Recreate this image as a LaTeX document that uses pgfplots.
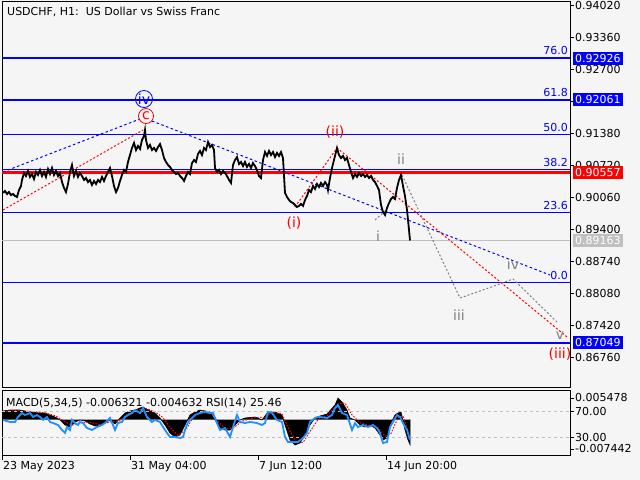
\documentclass[border=0pt]{standalone}
\usepackage{pgfplots}
\usepackage{pgfplotstable}
\pgfplotsset{compat=1.18}
\usepackage{fontspec}
\setmainfont{DejaVu Sans}
\definecolor{bg}{HTML}{F5F5F5}
\definecolor{mtblue}{HTML}{0000FF}
\definecolor{mtred}{HTML}{FF0000}
\definecolor{wgray}{HTML}{808080}
\definecolor{silver}{HTML}{C0C0C0}
\definecolor{rsiblue}{HTML}{1E90FF}
\definecolor{dgray}{HTML}{C0C0C0}
\newcommand\tf{\fontsize{11bp}{13bp}\selectfont}
\newcommand\lf{\fontsize{14bp}{16bp}\selectfont}

\pgfplotstableread{
x p
3 0.90143
5 0.90184
7 0.90122
9 0.90163
11 0.90101
13 0.90122
15 0.90081
17 0.90060
19 0.90204
21 0.90287
22 0.90411
24 0.90555
26 0.90493
28 0.90596
30 0.90473
32 0.90534
34 0.90431
36 0.90576
38 0.90514
40 0.90617
42 0.90493
44 0.90576
46 0.90473
48 0.90638
50 0.90534
52 0.90658
54 0.90514
56 0.90596
58 0.90493
60 0.90555
62 0.90369
64 0.90246
66 0.90163
68 0.90328
70 0.90576
72 0.90720
74 0.90493
76 0.90596
78 0.90473
80 0.90555
82 0.90493
84 0.90411
86 0.90452
88 0.90369
90 0.90411
92 0.90308
94 0.90390
96 0.90328
98 0.90411
100 0.90369
102 0.90473
104 0.90390
106 0.90493
108 0.90576
110 0.90658
112 0.90493
114 0.90287
116 0.90163
118 0.90246
120 0.90390
122 0.90514
124 0.90617
126 0.90576
128 0.90782
130 0.90926
132 0.91071
134 0.91174
136 0.91029
138 0.91112
140 0.91050
142 0.91236
144 0.91318
145 0.91442
146 0.91236
148 0.91071
150 0.91133
152 0.91029
154 0.91071
156 0.91009
158 0.91091
160 0.91153
162 0.91029
164 0.90864
166 0.90782
168 0.90720
170 0.90679
172 0.90617
174 0.90576
176 0.90534
178 0.90555
180 0.90493
182 0.90452
184 0.90390
186 0.90493
188 0.90576
190 0.90534
192 0.90761
194 0.90823
196 0.90782
198 0.90947
200 0.91009
202 0.90926
204 0.91071
206 0.91029
208 0.91195
210 0.91091
212 0.91133
214 0.91029
215 0.90658
217 0.90576
219 0.90617
221 0.90534
223 0.90596
225 0.90555
227 0.90493
229 0.90411
231 0.90349
233 0.90720
235 0.90823
237 0.90885
239 0.90741
241 0.90782
243 0.90699
245 0.90782
247 0.90679
249 0.90741
251 0.90658
253 0.90761
255 0.90699
257 0.90617
259 0.90493
261 0.90452
263 0.90823
265 0.90988
267 0.90906
269 0.91009
271 0.90926
273 0.90988
275 0.90885
277 0.90968
279 0.90906
281 0.90988
283 0.90864
285 0.90143
287 0.90060
289 0.89998
291 0.89957
293 0.89936
295 0.89895
297 0.89854
299 0.89875
301 0.89916
303 0.89875
305 0.89998
307 0.90081
309 0.90204
311 0.90163
313 0.90287
315 0.90225
317 0.90328
319 0.90266
321 0.90349
323 0.90287
325 0.90369
327 0.90308
328 0.90204
330 0.90452
332 0.90658
334 0.90823
336 0.90988
337 0.91071
339 0.90926
341 0.90864
343 0.90906
345 0.90823
347 0.90864
349 0.90720
351 0.90576
353 0.90452
355 0.90534
357 0.90473
359 0.90555
361 0.90493
363 0.90534
365 0.90473
367 0.90514
369 0.90452
371 0.90493
373 0.90411
375 0.90369
377 0.90287
379 0.90204
381 0.89895
383 0.89751
385 0.89689
387 0.89834
389 0.89936
391 0.90019
393 0.90060
395 0.90019
397 0.90246
399 0.90411
401 0.90514
403 0.90287
405 0.90081
407 0.89792
409 0.89383
410 0.89163
}\price

\pgfplotstableread{
x m
3 0
3 0.00218
10 0.00243
20 0.00243
30 0.00193
40 0.00167
45 0.00167
50 0.00117
55 0.00066
60 -0.00010
65 -0.00137
70 -0.00188
75 -0.00061
80 -0.00010
85 -0.00035
90 -0.00111
95 -0.00162
100 -0.00137
105 -0.00086
110 -0.00010
115 -0.00111
120 0.00041
125 0.00167
130 0.00218
135 0.00243
140 0.00294
143 0.00319
148 0.00243
155 0.00167
160 0.00041
165 -0.00137
170 -0.00340
175 -0.00441
180 -0.00390
185 -0.00137
190 0.00117
195 0.00193
200 0.00243
205 0.00218
210 0.00193
215 -0.00010
220 -0.00213
225 -0.00264
230 -0.00264
235 -0.00137
240 -0.00010
245 0.00041
255 0.00066
262 -0.00010
268 0.00193
275 0.00193
282 0.00117
285 -0.00137
290 -0.00517
295 -0.00644
300 -0.00593
305 -0.00390
310 -0.00137
315 0.00041
320 0.00091
327 0.00142
335 0.00370
338 0.00547
342 0.00446
347 0.00243
350 0.00041
355 -0.00010
360 -0.00137
365 -0.00188
370 -0.00137
375 -0.00213
380 -0.00390
383 -0.00517
387 -0.00466
390 -0.00137
395 0.00117
398 0.00167
401 0.00193
405 -0.00264
408 -0.00517
410 -0.00632
410 0
}\macd

\pgfplotstableread{
x s
3 0.0020
15 0.0023
30 0.0021
45 0.0017
55 0.0010
65 -0.0005
72 -0.0014
80 -0.0008
90 -0.0007
100 -0.0013
110 -0.0006
120 -0.0003
128 0.0015
138 0.0025
146 0.0028
155 0.0020
163 0.0005
170 -0.0020
178 -0.0040
186 -0.0025
193 0.0005
202 0.0022
210 0.0020
218 -0.0005
226 -0.0024
234 -0.0020
242 -0.0004
255 0.0005
265 0.0005
272 0.0018
282 0.0015
288 -0.0020
296 -0.0055
303 -0.0058
310 -0.0030
318 0.0000
328 0.0012
338 0.0040
345 0.0042
352 0.0012
360 -0.0008
370 -0.0015
378 -0.0020
385 -0.0042
391 -0.0035
398 0.0005
403 0.0010
410 -0.00463
}\signal

\pgfplotstableread{
x r
3 56.2
10 53.1
15 53.1
18 60.8
22 66.9
25 63.8
30 66.9
33 60.8
37 63.8
40 60.8
43 56.2
47 60.8
50 53.1
53 51.5
58 48.5
62 40.8
65 36.2
67 45.4
70 40.8
72 56.2
75 51.5
78 48.5
80 53.1
83 51.5
87 43.8
92 40.8
97 45.4
102 48.5
105 51.5
110 59.2
113 48.5
115 40.8
118 51.5
122 53.1
125 60.8
128 63.8
132 66.9
135 71.5
140 66.9
143 74.6
147 60.8
152 53.1
155 56.2
160 53.1
163 45.4
167 36.2
170 30.0
175 30.0
180 28.5
183 30.0
185 40.8
188 53.1
192 59.2
195 63.8
200 66.9
205 68.5
210 66.9
213 66.9
217 51.5
220 40.8
225 43.8
230 30.0
233 45.4
237 63.8
240 53.1
245 51.5
250 53.1
257 51.5
262 48.5
265 51.5
268 68.5
272 66.9
277 56.2
282 53.1
285 30.0
288 22.3
293 22.3
298 22.3
303 28.5
307 36.2
310 53.1
315 59.2
318 60.8
320 60.8
327 59.2
332 63.8
335 74.6
338 79.2
342 66.9
347 63.8
352 40.8
355 51.5
358 45.4
363 48.5
368 45.4
373 48.5
377 43.8
380 36.2
383 20.8
387 22.3
390 45.4
393 53.1
397 63.8
400 60.8
403 51.5
407 40.8
410 25.46
}\rsi

\begin{document}
\begin{tikzpicture}
\useasboundingbox (0bp,0bp) rectangle (640bp,480bp);
\fill[bg] (0bp,0bp) rectangle (640bp,480bp);
% ---------------- main price window ----------------
\begin{axis}[
  at={(2bp,92bp)}, anchor=south west,
  scale only axis, width=568bp, height=386bp,
  xmin=2, xmax=570, ymin=0.8612063, ymax=0.9408188,
  axis line style={line width=1bp},
  xtick=\empty,
  ytick={0.8676,0.8742,0.8808,0.8874,0.8940,0.9006,0.9072,0.9138,0.9204,0.9270,0.9336,0.9402},
  yticklabels={0.86760,0.87420,0.88080,0.88740,0.89400,0.90060,0.90720,0.91380,0.92040,0.92700,0.93360,0.94020},
  scaled y ticks=false,
  ytick pos=right, yticklabel pos=right, tick align=outside,
  major tick length=4bp, tick style={black, line width=0.8bp},
  yticklabel style={font=\tf, anchor=west, inner sep=0pt, xshift=1bp},
  clip=false,
]
% horizontal levels
\addplot[silver, line width=1bp] coordinates {(2,0.89163) (570,0.89163)};
\addplot[mtblue, line width=2bp] coordinates {(2,0.92926) (570,0.92926)};
\addplot[mtblue, line width=2bp] coordinates {(2,0.92061) (570,0.92061)};
\addplot[mtblue, line width=1bp] coordinates {(2,0.91342) (570,0.91342)};
\addplot[mtblue, line width=1bp] coordinates {(2,0.90623) (570,0.90623)};
\addplot[mtblue, line width=1bp] coordinates {(2,0.89734) (570,0.89734)};
\addplot[mtblue, line width=1bp] coordinates {(2,0.88296) (570,0.88296)};
\addplot[mtblue, line width=2bp] coordinates {(2,0.87049) (570,0.87049)};
\addplot[mtred, line width=3bp] coordinates {(2,0.90557) (570,0.90557)};
% wave lines
\addplot[mtblue, line width=1bp, dash pattern=on 2.5bp off 2.5bp] coordinates {(3,0.90576) (140,0.91669)};
\addplot[mtblue, line width=1bp, dash pattern=on 2.5bp off 2.5bp] coordinates {(152,0.91627) (550,0.88451)};
\addplot[mtred, line width=1bp, dash pattern=on 2bp off 2bp] coordinates {(3,0.89792) (143,0.91442)};
\addplot[mtred, line width=1bp, dash pattern=on 2bp off 2bp] coordinates {(295,0.89854) (337,0.91071) (407,0.89895) (567,0.87173)};
\addplot[wgray, line width=1bp, dash pattern=on 2bp off 2bp] coordinates {(375,0.89586) (385,0.89771)};
\addplot[wgray, line width=1bp, dash pattern=on 2bp off 2bp] coordinates {(402,0.90514) (460,0.87977) (497,0.88245) (513,0.88369) (558,0.87462)};
% price
\addplot[black, line width=1.8bp] table[x=x,y=p] {\price};
% labels
\node[anchor=west, font=\tf, inner sep=0pt] at (axis cs:7,0.93876) {USDCHF, H1:\ \ US Dollar vs Swiss Franc};
\node[anchor=south east, font=\tf, text=mtblue, inner sep=0pt] at (axis cs:568,0.92926+0.0006) {76.0};
\node[anchor=south east, font=\tf, text=mtblue, inner sep=0pt] at (axis cs:568,0.92061+0.0006) {61.8};
\node[anchor=south east, font=\tf, text=mtblue, inner sep=0pt] at (axis cs:568,0.91342+0.0006) {50.0};
\node[anchor=south east, font=\tf, text=mtblue, inner sep=0pt] at (axis cs:568,0.90623+0.0006) {38.2};
\node[anchor=south east, font=\tf, text=mtblue, inner sep=0pt] at (axis cs:568,0.89734+0.0006) {23.6};
\node[anchor=south east, font=\tf, text=mtblue, inner sep=0pt] at (axis cs:568,0.88296+0.0006) {0.0};
\node[circle, draw=mtblue, line width=0.8bp, inner sep=0pt, minimum size=17bp, text=mtblue, font=\lf] at (axis cs:144,0.92081) {iv};
\node[circle, draw=mtred, line width=0.8bp, inner sep=0pt, minimum size=15bp, text=mtred, font=\lf] at (axis cs:146,0.91730) {c};
\node[text=mtred, font=\lf, inner sep=0pt] at (axis cs:294,0.89524) {(i)};
\node[text=mtred, font=\lf, inner sep=0pt] at (axis cs:335,0.91401) {(ii)};
\node[text=wgray, font=\lf, inner sep=0pt] at (axis cs:378,0.89256) {i};
\node[text=wgray, font=\lf, inner sep=0pt] at (axis cs:401,0.90844) {ii};
\node[text=wgray, font=\lf, inner sep=0pt] at (axis cs:459,0.87626) {iii};
\node[text=wgray, font=\lf, inner sep=0pt] at (axis cs:513,0.88678) {iv};
\node[text=wgray, font=\lf, inner sep=0pt] at (axis cs:560,0.87194) {v};
\node[text=mtred, font=\lf, inner sep=0pt] at (axis cs:560,0.86822) {(iii)};
% price boxes
\node[anchor=west, fill=mtblue, text=white, font=\tf, inner xsep=2bp, inner ysep=0pt, minimum height=13bp] at (axis cs:573,0.92926) {0.92926};
\node[anchor=west, fill=mtblue, text=white, font=\tf, inner xsep=2bp, inner ysep=0pt, minimum height=13bp] at (axis cs:573,0.92061) {0.92061};
\node[anchor=west, fill=mtred, text=white, font=\tf, inner xsep=2bp, inner ysep=0pt, minimum height=13bp] at (axis cs:573,0.90557) {0.90557};
\node[anchor=west, fill=silver, text=white, font=\tf, inner xsep=2bp, inner ysep=0pt, minimum height=13bp] at (axis cs:573,0.89163) {0.89163};
\node[anchor=west, fill=mtblue, text=white, font=\tf, inner xsep=2bp, inner ysep=0pt, minimum height=13bp] at (axis cs:573,0.87049) {0.87049};
\end{axis}
% ---------------- MACD window ----------------
\begin{axis}[
  at={(2bp,24bp)}, anchor=south west,
  scale only axis, width=568bp, height=65bp,
  xmin=2, xmax=570, ymin=-0.009222, ymax=0.007246,
  axis line style={line width=1bp},
  xtick={2,130,258,386},
  xticklabels={23 May 2023,31 May 04:00,7 Jun 12:00,14 Jun 20:00},
  xtick pos=bottom, tick align=outside,
  xticklabel style={font=\tf, anchor=north west, inner sep=0pt, xshift=1bp, yshift=-1bp},
  ytick={-0.007442,0.005478},
  yticklabels={-0.007442,0.005478},
  scaled y ticks=false,
  ytick pos=right, yticklabel pos=right,
  major tick length=4bp, tick style={black, line width=0.8bp},
  yticklabel style={font=\tf, anchor=west, inner sep=0pt, xshift=1bp},
  clip=false,
]
\addplot[fill=black, draw=black, line width=0.6bp] table[x=x,y=m] {\macd};
\addplot[mtred, line width=1bp, dash pattern=on 1.5bp off 1.5bp] table[x=x,y=s] {\signal};
\node[anchor=west, font=\tf, inner sep=0pt] at (axis cs:6,0.00421) {MACD(5,34,5) -0.006321 -0.004632 RSI(14) 25.46};
\end{axis}
% ---------------- RSI overlay ----------------
\begin{axis}[
  at={(2bp,24bp)}, anchor=south west,
  scale only axis, width=568bp, height=65bp,
  xmin=2, xmax=570, ymin=0.77, ymax=100.77,
  axis line style={draw=none},
  xtick=\empty,
  ytick={30,70}, yticklabels={30.00,70.00},
  ytick pos=right, yticklabel pos=right, tick align=outside,
  major tick length=4bp, tick style={black, line width=0.8bp},
  yticklabel style={font=\tf, anchor=west, inner sep=0pt, xshift=1bp},
]
\addplot[dgray, line width=0.8bp, dash pattern=on 3bp off 3bp] coordinates {(2,70) (570,70)};
\addplot[dgray, line width=0.8bp, dash pattern=on 3bp off 3bp] coordinates {(2,30) (570,30)};
\addplot[rsiblue, line width=1.8bp] table[x=x,y=r] {\rsi};
\end{axis}
\end{tikzpicture}
\end{document}
